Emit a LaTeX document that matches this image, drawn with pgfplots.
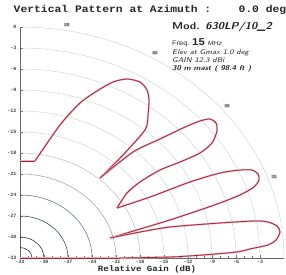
\documentclass[border=0pt]{standalone}
\usepackage{pgfplots}
\pgfplotsset{compat=1.18}
\usepackage{fontspec}
\setmainfont{Liberation Sans}
\setmonofont{Liberation Mono}
\definecolor{pat}{RGB}{165,35,55}
\definecolor{halo}{RGB}{240,175,185}
\definecolor{gA}{RGB}{40,50,90}
\definecolor{gB}{RGB}{60,70,110}
\definecolor{gC}{RGB}{100,110,145}
\definecolor{gD}{RGB}{145,155,180}
\definecolor{gE}{RGB}{175,182,200}
\definecolor{gF}{RGB}{200,205,216}
\pgfplotsset{patline/.style={pat, line width=0.8pt, no markers, preaction={draw=halo, line width=1.8pt}}}
\begin{document}
\begin{tikzpicture}
\useasboundingbox (-20bp,-17bp) rectangle (266bp,258bp);
\begin{axis}[
  at={(0,0)}, anchor=south west,
  scale only axis, width=264bp, height=231bp,
  xmin=-33, xmax=0, ymin=-33, ymax=0,
  axis x line*=bottom, axis y line*=left,
  axis line style={black!60, line width=0.5pt},
  xtick={-33,-30,-27,-24,-21,-18,-15,-12,-9,-6,-3},
  xticklabels={-33,-30,-27,-24,-21,-18,-15,-12,-9,-6,-3},
  ytick={-33,-30,-27,-24,-21,-18,-15,-12,-9,-6,-3,0},
  yticklabels={-33,-30,-27,-24,-21,-18,-15,-12,-9,-6,-3,0},
  minor x tick num=2, minor y tick num=2,
  tick align=inside,
  major tick length=3bp, minor tick length=1.5bp,
  tick style={black!60, line width=0.4pt},
  xticklabel style={font=\ttfamily\bfseries\fontsize{5}{6}\selectfont, text=black!75, inner sep=0.5bp, yshift=-1.5bp},
  yticklabel style={font=\ttfamily\bfseries\fontsize{5}{6}\selectfont, text=black!75, inner sep=0.5bp, xshift=-3bp},
  clip=false,
]
% grid arcs (constant gain)
\draw[gF, line width=0.4pt] (axis cs:0,-33) arc[start angle=0,end angle=90,x radius=264bp,y radius=231bp];
\draw[gF, line width=0.4pt] (axis cs:-3,-33) arc[start angle=0,end angle=90,x radius=240bp,y radius=210bp];
\draw[gF, line width=0.4pt] (axis cs:-6,-33) arc[start angle=0,end angle=90,x radius=216bp,y radius=189bp];
\draw[gF, line width=0.4pt] (axis cs:-9,-33) arc[start angle=0,end angle=90,x radius=192bp,y radius=168bp];
\draw[gF, line width=0.4pt] (axis cs:-12,-33) arc[start angle=0,end angle=90,x radius=168bp,y radius=147bp];
\draw[gF, line width=0.4pt] (axis cs:-15,-33) arc[start angle=0,end angle=90,x radius=144bp,y radius=126bp];
\draw[gE, line width=0.45pt] (axis cs:-18,-33) arc[start angle=0,end angle=90,x radius=120bp,y radius=105bp];
\draw[gD, line width=0.5pt] (axis cs:-21,-33) arc[start angle=0,end angle=90,x radius=96bp,y radius=84bp];
\draw[gC, line width=0.55pt] (axis cs:-24,-33) arc[start angle=0,end angle=90,x radius=72bp,y radius=63bp];
\draw[gB, line width=0.6pt] (axis cs:-27,-33) arc[start angle=0,end angle=90,x radius=48bp,y radius=42bp];
\draw[gA, line width=0.6pt] (axis cs:-30,-33) arc[start angle=0,end angle=90,x radius=24bp,y radius=21bp];
\draw[gA, line width=0.6pt] (axis cs:-31.5,-33) arc[start angle=0,end angle=90,x radius=12bp,y radius=10.5bp];
% elevation angle labels
\node[font=\sffamily\bfseries\fontsize{4.5}{5}\selectfont, text=black!75, fill=gray!22, inner sep=0.5pt] at (axis cs:-27.13,0.29) {80};
\node[font=\sffamily\bfseries\fontsize{4.5}{5}\selectfont, text=black!75, fill=gray!22, inner sep=0.5pt] at (axis cs:-16.1,-3.73) {60};
\node[font=\sffamily\bfseries\fontsize{4.5}{5}\selectfont, text=black!75, fill=gray!22, inner sep=0.5pt] at (axis cs:-7.11,-11.27) {40};
\node[font=\sffamily\bfseries\fontsize{4.5}{5}\selectfont, text=black!75, fill=gray!22, inner sep=0.5pt] at (axis cs:-1.24,-21.44) {20};
% pattern
\addplot[patline] coordinates {(-33,-19.14) (-31.13,-19.14)};
\addplot[patline, smooth, tension=0.45] coordinates {
(-31.13,-19.14) (-28,-14.0) (-25.5,-10.86) (-23.375,-9.14) (-21.375,-7.86) (-19.625,-7.43)
(-18.0,-7.86) (-17.125,-9.0) (-16.875,-10.43) (-17.0,-12.57) (-17.375,-14.71) (-20.25,-18.43) (-23.0,-21.57)};
\addplot[patline, smooth, tension=0.45] coordinates {
(-23.0,-21.57) (-18.875,-17.86) (-15.5,-16.0) (-12.375,-14.29) (-10.5,-13.43) (-9.25,-13.14)
(-8.5,-13.71) (-8.375,-14.86) (-9.0,-16.57) (-10.5,-18.0) (-13.0,-19.29) (-15.5,-20.43)
(-18.0,-22.14) (-19.625,-23.71) (-20.875,-25.86)};
\addplot[patline, smooth, tension=0.45] coordinates {
(-20.875,-25.86) (-16.75,-24.29) (-11.75,-22.14) (-8.0,-20.86) (-5.5,-20.43) (-4.0,-20.43)
(-3.25,-21.0) (-3.125,-21.86) (-3.75,-22.86) (-5.5,-24.0) (-8.0,-25.14) (-10.5,-26.14)
(-14.25,-27.57) (-18.0,-28.86) (-21.75,-30.14)};
\addplot[patline, smooth, tension=0.45] coordinates {
(-21.75,-30.14) (-18.0,-29.29) (-14.25,-28.57) (-8.0,-28.0) (-3.625,-27.71) (-2.0,-27.86)
(-0.875,-28.43) (-0.5,-29.29) (-1.0,-30.43) (-2.0,-31.14) (-4.25,-31.71) (-5.875,-32.14)
(-10.125,-32.57) (-14.25,-32.86) (-20.5,-33)};
\addplot[patline] coordinates {(-20.5,-33) (-33,-33)};
\end{axis}
% title, axis label and info block
\node[font=\ttfamily\bfseries\fontsize{10}{12}\selectfont, xscale=1.14, text=black!85] at (130bp,248bp) {Vertical Pattern at Azimuth :\ \ \ \ 0.0 deg};
\node[font=\ttfamily\bfseries\fontsize{8}{9}\selectfont, xscale=1.14, text=black!85] at (127bp,-11.5bp) {Relative Gain (dB)};
\node[anchor=base west, font=\sffamily\bfseries\fontsize{10}{12}\selectfont, xscale=1.14, inner sep=0pt, text=black!85] at (152bp,228bp) {Mod. \textit{630LP/10\_2}};
\node[anchor=base west, inner sep=0pt, xscale=1.14, text=black!85] at (152bp,212bp) {\fontsize{6.5}{7}\selectfont Freq. \fontsize{10}{11}\selectfont\bfseries 15 \fontsize{6}{7}\selectfont\mdseries\itshape MHz};
\node[anchor=base west, inner sep=0pt, xscale=1.14, font=\sffamily\itshape\fontsize{7}{8}\selectfont, text=black!85] at (152bp,203bp) {Elev at Gmax 1.0 deg};
\node[anchor=base west, inner sep=0pt, xscale=1.14, font=\sffamily\itshape\fontsize{7}{8}\selectfont, text=black!85] at (152bp,195bp) {GAIN 12.3 dBi};
\node[anchor=base west, inner sep=0pt, xscale=1.14, font=\sffamily\bfseries\itshape\fontsize{7}{8}\selectfont, text=black!85] at (152bp,187bp) {30 m mast ( 98.4 ft )};
\end{tikzpicture}
\end{document}
